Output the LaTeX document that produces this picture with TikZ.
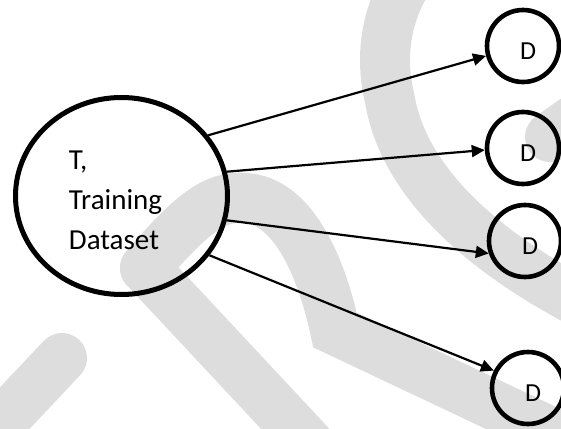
\documentclass[tikz,border=0pt]{standalone}
\usepackage{fontspec}
\setmainfont{Carlito}
\usetikzlibrary{shapes.geometric,arrows.meta}

\begin{document}
\begin{tikzpicture}[x=1pt, y=1pt,
    trainset/.style={draw, ellipse, line width=5pt, minimum width=212pt, minimum height=197pt, inner sep=0pt},
    traintext/.style={align=left, inner sep=0pt, font=\fontsize{29}{40}\selectfont},
    subset/.style={draw, circle, line width=4.6pt, minimum size=72pt, inner sep=0pt,
        label={[inner sep=0pt, xshift=5pt, yshift=-5pt, font=\fontsize{26}{30}\selectfont]center:#1}},
    tolink/.style={line width=2.2pt, -{Triangle[length=13pt,width=12pt]}},
    wmark/.style={gray!27, line width=50pt, line cap=round}]
        \useasboundingbox (0,0) rectangle (561,-428);

        % Watermark in the background
        \begin{scope}
            \clip (0,0) rectangle (561,-428);
            \draw[wmark] (405,15) .. controls (385,-20) and (380,-60) .. (390,-100) .. controls (400,-160) and (450,-235) .. (585,-305);
            \draw[wmark] (550,-137) -- (595,-105);
            \draw[wmark] (-20,-445) -- (62,-358);
            \draw[wmark] (145,-268) -- (315,-450);
            \draw[wmark] (145,-268) .. controls (190,-215) and (215,-195) .. (245,-198) .. controls (290,-200) and (320,-260) .. (335,-330) -- (610,-460);
        \end{scope}

        % Training set and its subsets
        \node[trainset] (T) at (121.5,-196) {};
        \node[traintext] (Ttext) at (115.5,-200) {T,\\Training\\Dataset};
        \node[subset=D] (d1) at (523,-46) {};
        \node[subset=D] (d2) at (523,-148) {};
        \node[subset=D] (d3) at (525,-241) {};
        \node[subset=D] (d4) at (528,-388) {};

        % Arrows
        \draw[tolink] (T.35) -- (d1.195);
        \draw[tolink] (T.13) -- (d2.183);
        \draw[tolink] (T.-13) -- (d3.199);
        \draw[tolink] (T.-34) -- (d4.153);
    \end{tikzpicture}
\end{document}
